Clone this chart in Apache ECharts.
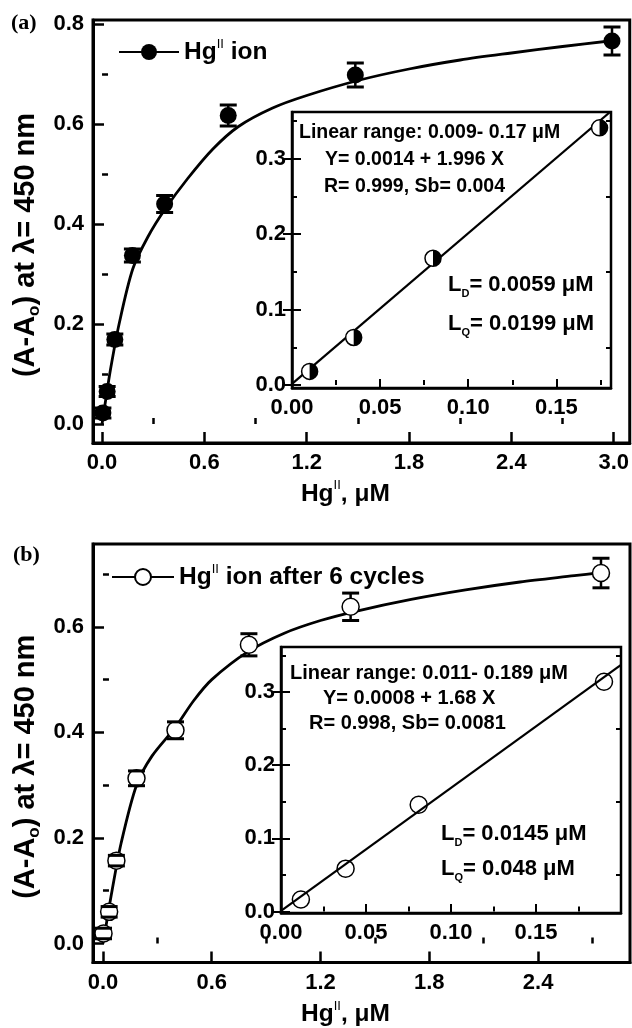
<!DOCTYPE html>
<html><head><meta charset="utf-8">
<script src="https://cdn.jsdelivr.net/npm/echarts@6/dist/echarts.min.js"></script>
<style>html,body{margin:0;padding:0;background:#fff}#c{width:632px;height:1028px}</style>
</head><body><div id="c"></div>
<script>
// ---------- Panel (a): Hg(II) ion ----------
const concA = [0.005, 0.030, 0.075, 0.178, 0.367, 0.740, 1.485, 2.990];
const absA  = [0.022, 0.065, 0.169, 0.337, 0.440, 0.617, 0.698, 0.766];
const errA  = [0.010, 0.010, 0.011, 0.013, 0.017, 0.021, 0.024, 0.028];
const fitXA = [0, 0.02, 0.05, 0.10, 0.18, 0.27, 0.37, 0.50, 0.65, 0.80, 1.00, 1.20, 1.50, 1.80, 2.10, 2.40, 2.70, 3.00];
const fitYA = [0, 0.045, 0.11, 0.20, 0.31, 0.375, 0.43, 0.49, 0.55, 0.595, 0.632, 0.657, 0.687, 0.71, 0.728, 0.742, 0.755, 0.767];
const insetXA = [0.010, 0.035, 0.080, 0.1745];
const insetYA = [0.018, 0.063, 0.168, 0.341];
const insetLineXA = [0, 0.181];
const insetLineYA = [0.0014, 0.363];

// ---------- Panel (b): Hg(II) ion after 6 cycles ----------
const concB = [0.003, 0.034, 0.074, 0.185, 0.400, 0.805, 1.366, 2.747];
const absB  = [0.019, 0.060, 0.157, 0.313, 0.404, 0.566, 0.638, 0.702];
const errB  = [0.010, 0.010, 0.010, 0.014, 0.016, 0.021, 0.026, 0.028];
const fitXB = [0, 0.02, 0.05, 0.10, 0.185, 0.27, 0.40, 0.50, 0.60, 0.80, 1.00, 1.20, 1.40, 1.70, 2.00, 2.30, 2.60, 2.75];
const fitYB = [0, 0.04, 0.10, 0.19, 0.30, 0.355, 0.41, 0.46, 0.50, 0.553, 0.588, 0.612, 0.63, 0.652, 0.67, 0.685, 0.697, 0.703];
const insetXB = [0.0117, 0.038, 0.081, 0.190];
const insetYB = [0.0164, 0.0586, 0.146, 0.314];
const insetLineXB = [0, 0.2];
const insetLineYB = [0.0008, 0.337];

// ---------- Tick values ----------
const mainXTicksA = [0, 0.6, 1.2, 1.8, 2.4, 3.0];
const mainXMinorA = [0.3, 0.9, 1.5, 2.1, 2.7];
const mainYTicksA = [0, 0.2, 0.4, 0.6, 0.8];
const mainYMinorA = [0.1, 0.3, 0.5, 0.7];
const mainXTicksB = [0, 0.6, 1.2, 1.8, 2.4];
const mainXMinorB = [0.3, 0.9, 1.5, 2.1, 2.7];
const mainYTicksB = [0, 0.2, 0.4, 0.6];
const mainYMinorB = [0.1, 0.3, 0.5, 0.7];
const insetXTicks = [0, 0.05, 0.10, 0.15];
const insetXMinor = [0.025, 0.075, 0.125, 0.175];
const insetYTicks = [0, 0.1, 0.2, 0.3];
const insetYMinor = [0.05, 0.15, 0.25, 0.35];

const FONT = '"Liberation Sans", Arial, Helvetica, sans-serif';
const SERIF = '"Liberation Serif", "Times New Roman", serif';

const pairs = (xs, ys) => xs.map((x, i) => [x, ys[i]]);
const triples = (xs, ys, es) => xs.map((x, i) => [x, ys[i], es[i]]);

function majorAxis(gridIndex, min, max, ticks, digits, o) {
  const ax = {
    type: 'value', gridIndex, min, max, position: o.position,
    axisLine: { show: true, onZero: false, lineStyle: { color: '#000', width: o.lw } },
    axisTick: { show: true, inside: true, length: o.tl, lineStyle: { color: '#000', width: o.tw }, customValues: ticks },
    axisLabel: { show: o.labels !== false, customValues: ticks, formatter: v => Number(v).toFixed(digits),
      margin: o.margin, color: '#000', fontFamily: FONT, fontWeight: 'bold', fontSize: o.fs },
    splitLine: { show: false }
  };
  if (o.name) {
    ax.name = o.name; ax.nameLocation = 'middle'; ax.nameGap = o.nameGap;
    ax.nameRotate = o.nameRotate;
    ax.nameTextStyle = o.nameTextStyle;
  }
  return ax;
}
function minorAxis(gridIndex, min, max, ticks, o) {
  return {
    type: 'value', gridIndex, min, max, position: o.position,
    axisLine: { show: false }, axisLabel: { show: false }, splitLine: { show: false },
    axisTick: { show: true, inside: true, length: o.tl, lineStyle: { color: '#000', width: o.tw }, customValues: ticks }
  };
}

const xNameRich = {
  t: { fontFamily: FONT, fontWeight: 'bold', fontSize: 24.5, color: '#000', lineHeight: 30 },
  s: { fontFamily: FONT, fontWeight: 'normal', fontSize: 13, color: '#000', lineHeight: 13, verticalAlign: 'top' }
};
const yNameRich = {
  t: { fontFamily: FONT, fontWeight: 'bold', fontSize: 29, color: '#000', lineHeight: 34 },
  o: { fontFamily: FONT, fontWeight: 'bold', fontSize: 17, color: '#000', lineHeight: 14, verticalAlign: 'bottom' }
};
const xName = '{t|Hg}{s|II}{t|, μM}';
const yName = '{t|(A-A}{o|o}{t|) at λ= 450 nm}';

const rangesA = { x: [-0.053, 3.094], y: [-0.038, 0.808], ix: [0, 0.181], iy: [-0.004, 0.362] };
const rangesB = { x: [-0.055, 2.907], y: [-0.036, 0.757], ix: [0, 0.2], iy: [-0.002, 0.3615] };

const mainX = { position: 'bottom', lw: 3, tl: 11, tw: 2.5, margin: 9, fs: 22 };
const mainY = { position: 'left', lw: 3, tl: 11, tw: 2.5, margin: 9, fs: 22 };
const mainMinor = { tl: 6, tw: 2.5 };
const insX = { position: 'bottom', lw: 2.5, tl: 9, tw: 2, margin: 9, fs: 22 };
const insY = { position: 'left', lw: 2.5, tl: 9, tw: 2, margin: 6, fs: 22 };
const insMinor = { tl: 5, tw: 2 };

const xAxis = [
  majorAxis(0, rangesA.x[0], rangesA.x[1], mainXTicksA, 1, Object.assign({}, mainX, {
    name: xName, nameGap: 36, nameTextStyle: { rich: xNameRich, padding: [0, 32, 0, 0] } })),
  minorAxis(0, rangesA.x[0], rangesA.x[1], mainXMinorA, Object.assign({ position: 'bottom' }, mainMinor)),
  majorAxis(1, rangesA.ix[0], rangesA.ix[1], insetXTicks, 2, insX),
  minorAxis(1, rangesA.ix[0], rangesA.ix[1], insetXMinor, Object.assign({ position: 'bottom' }, insMinor)),
  majorAxis(2, rangesB.x[0], rangesB.x[1], mainXTicksB, 1, Object.assign({}, mainX, {
    name: xName, nameGap: 37, nameTextStyle: { rich: xNameRich, padding: [0, 32, 0, 0] } })),
  minorAxis(2, rangesB.x[0], rangesB.x[1], mainXMinorB, Object.assign({ position: 'bottom' }, mainMinor)),
  majorAxis(3, rangesB.ix[0], rangesB.ix[1], insetXTicks, 2, insX),
  minorAxis(3, rangesB.ix[0], rangesB.ix[1], insetXMinor, Object.assign({ position: 'bottom' }, insMinor))
];
const yAxis = [
  majorAxis(0, rangesA.y[0], rangesA.y[1], mainYTicksA, 1, Object.assign({}, mainY, {
    name: yName, nameGap: 50, nameRotate: 90, nameTextStyle: { rich: yNameRich, padding: [0, 27, 0, 0] } })),
  minorAxis(0, rangesA.y[0], rangesA.y[1], mainYMinorA, Object.assign({ position: 'left' }, mainMinor)),
  majorAxis(1, rangesA.iy[0], rangesA.iy[1], insetYTicks, 1, insY),
  minorAxis(1, rangesA.iy[0], rangesA.iy[1], insetYMinor, Object.assign({ position: 'left' }, insMinor)),
  minorAxis(1, rangesA.iy[0], rangesA.iy[1], insetYTicks, { position: 'right', tl: 9, tw: 2 }),
  minorAxis(1, rangesA.iy[0], rangesA.iy[1], insetYMinor, Object.assign({ position: 'right' }, insMinor)),
  majorAxis(2, rangesB.y[0], rangesB.y[1], mainYTicksB, 1, Object.assign({}, mainY, {
    name: yName, nameGap: 50, nameRotate: 90, nameTextStyle: { rich: yNameRich, padding: [0, 27, 0, 0] } })),
  minorAxis(2, rangesB.y[0], rangesB.y[1], mainYMinorB, Object.assign({ position: 'left' }, mainMinor)),
  majorAxis(3, rangesB.iy[0], rangesB.iy[1], insetYTicks, 1, insY),
  minorAxis(3, rangesB.iy[0], rangesB.iy[1], insetYMinor, Object.assign({ position: 'left' }, insMinor)),
  minorAxis(3, rangesB.iy[0], rangesB.iy[1], insetYTicks, { position: 'right', tl: 9, tw: 2 }),
  minorAxis(3, rangesB.iy[0], rangesB.iy[1], insetYMinor, Object.assign({ position: 'right' }, insMinor))
];

function errorBars(radius) {
  return function (params, api) {
    const x = api.value(0), y = api.value(1), e = api.value(2);
    const c = api.coord([x, y]);
    const t = api.coord([x, y + e]);
    const b = api.coord([x, y - e]);
    const hw = 8.5;
    const cap = { stroke: '#000', lineWidth: 3 };
    const stem = { stroke: '#000', lineWidth: 2.5 };
    const ch = [
      { type: 'line', shape: { x1: t[0] - hw, y1: t[1], x2: t[0] + hw, y2: t[1] }, style: cap },
      { type: 'line', shape: { x1: b[0] - hw, y1: b[1], x2: b[0] + hw, y2: b[1] }, style: cap }
    ];
    if (t[1] < c[1] - radius) ch.push({ type: 'line', shape: { x1: c[0], y1: t[1], x2: c[0], y2: c[1] - radius }, style: stem });
    if (b[1] > c[1] + radius) ch.push({ type: 'line', shape: { x1: c[0], y1: c[1] + radius, x2: c[0], y2: b[1] }, style: stem });
    return { type: 'group', children: ch };
  };
}

const nameA = 'Hg(II) ion';
const nameB = 'Hg(II) ion after 6 cycles';

const series = [
  // panel (a) main
  { name: nameA, type: 'line', xAxisIndex: 0, yAxisIndex: 0, data: pairs(fitXA, fitYA), smooth: 0.3,
    symbol: 'circle', showSymbol: false, symbolSize: 16, color: '#000', lineStyle: { color: '#000', width: 2.8 }, z: 2, silent: true },
  { type: 'custom', xAxisIndex: 0, yAxisIndex: 0, data: triples(concA, absA, errA), renderItem: errorBars(0), encode: { x: 0, y: 1 }, z: 3 },
  { type: 'scatter', xAxisIndex: 0, yAxisIndex: 0, data: pairs(concA, absA), symbol: 'circle', symbolSize: 17,
    itemStyle: { color: '#000', opacity: 1 }, z: 4 },
  // panel (a) inset
  { type: 'line', xAxisIndex: 2, yAxisIndex: 2, data: pairs(insetLineXA, insetLineYA), symbol: 'none',
    lineStyle: { color: '#000', width: 2.2 }, z: 5 },
  { type: 'scatter', xAxisIndex: 2, yAxisIndex: 2, data: pairs(insetXA, insetYA), symbol: 'circle', symbolSize: 16,
    itemStyle: { color: '#fff', borderColor: '#000', borderWidth: 1.5, opacity: 1 }, z: 6 },
  { type: 'scatter', xAxisIndex: 2, yAxisIndex: 2, data: pairs(insetXA, insetYA), symbol: 'path://M0,0 A10,10 0 0 1 0,20 Z',
    symbolSize: [8, 16], symbolOffset: [4, 0], itemStyle: { color: '#000', opacity: 1 }, z: 7 },
  // panel (b) main
  { name: nameB, type: 'line', xAxisIndex: 4, yAxisIndex: 6, data: pairs(fitXB, fitYB), smooth: 0.3,
    symbol: 'emptyCircle', showSymbol: false, symbolSize: 16, color: '#000', lineStyle: { color: '#000', width: 2.8 }, z: 2, silent: true },
  { type: 'scatter', xAxisIndex: 4, yAxisIndex: 6, data: pairs(concB, absB), symbol: 'circle', symbolSize: 17,
    itemStyle: { color: '#fff', borderColor: '#000', borderWidth: 1.5, opacity: 1 }, z: 3 },
  { type: 'custom', xAxisIndex: 4, yAxisIndex: 6, data: triples(concB, absB, errB), renderItem: errorBars(8.5), encode: { x: 0, y: 1 }, z: 4 },
  // panel (b) inset
  { type: 'line', xAxisIndex: 6, yAxisIndex: 8, data: pairs(insetLineXB, insetLineYB), symbol: 'none',
    lineStyle: { color: '#000', width: 2.2 }, z: 5 },
  { type: 'scatter', xAxisIndex: 6, yAxisIndex: 8, data: pairs(insetXB, insetYB), symbol: 'circle', symbolSize: 17,
    itemStyle: { color: 'rgba(255,255,255,0)', borderColor: '#000', borderWidth: 1.5, opacity: 1 }, z: 6 }
];

const legRich = {
  t: { fontFamily: FONT, fontWeight: 'bold', fontSize: 24.5, color: '#000', lineHeight: 28 },
  s: { fontFamily: FONT, fontWeight: 'normal', fontSize: 13, color: '#000', lineHeight: 12, verticalAlign: 'top' }
};

function txt(x, y, text, size) {
  return {
    type: 'text', x, y, silent: true,
    style: {
      text, align: 'left', verticalAlign: 'middle', fill: '#000',
      fontFamily: FONT, fontWeight: 'bold', fontSize: size,
      rich: {
        t: { fontFamily: FONT, fontWeight: 'bold', fontSize: size, fill: '#000', lineHeight: 28 },
        d: { fontFamily: FONT, fontWeight: 'bold', fontSize: 11, fill: '#000', lineHeight: 10, verticalAlign: 'bottom' }
      }
    }
  };
}

const graphic = [
  { type: 'text', x: 11, y: 23, silent: true, style: { text: '(a)', fill: '#000', fontFamily: SERIF, fontWeight: 'bold', fontSize: 22, align: 'left', verticalAlign: 'middle' } },
  { type: 'text', x: 13, y: 555, silent: true, style: { text: '(b)', fill: '#000', fontFamily: SERIF, fontWeight: 'bold', fontSize: 22, align: 'left', verticalAlign: 'middle' } },
  txt(299, 133, '{t|Linear range: 0.009- 0.17 μM}', 19.5),
  txt(325, 160, '{t|Y= 0.0014 + 1.996 X}', 19.5),
  txt(324, 187, '{t|R= 0.999, Sb= 0.004}', 19.5),
  txt(448, 285, '{t|L}{d|D}{t|= 0.0059 μM}', 22),
  txt(448, 324, '{t|L}{d|Q}{t|= 0.0199 μM}', 22),
  txt(290, 673, '{t|Linear range: 0.011- 0.189 μM}', 20),
  txt(323, 698, '{t|Y= 0.0008 + 1.68 X}', 20),
  txt(309, 723, '{t|R= 0.998, Sb= 0.0081}', 20),
  txt(441, 834, '{t|L}{d|D}{t|= 0.0145 μM}', 22),
  txt(441, 869, '{t|L}{d|Q}{t|= 0.048 μM}', 22)
];

const option = {
  backgroundColor: '#fff',
  animation: false,
  grid: [
    { left: 93, top: 20, width: 537, height: 423, show: true, borderColor: '#000', borderWidth: 3, backgroundColor: 'rgba(0,0,0,0)' },
    { left: 292, top: 112, width: 319, height: 276, show: true, borderColor: '#000', borderWidth: 2.5, backgroundColor: '#fff' },
    { left: 93, top: 544, width: 537, height: 420, show: true, borderColor: '#000', borderWidth: 3, backgroundColor: 'rgba(0,0,0,0)' },
    { left: 281, top: 647, width: 340, height: 266, show: true, borderColor: '#000', borderWidth: 2.5, backgroundColor: '#fff' }
  ],
  xAxis, yAxis, series, graphic,
  legend: [
    { left: 118, top: 38, padding: 0, data: [nameA], itemWidth: 60, itemHeight: 20, selectedMode: false,
      formatter: () => '{t|Hg}{s|II}{t| ion}', textStyle: { rich: legRich } },
    { left: 111, top: 563, padding: 0, data: [nameB], itemWidth: 62, itemHeight: 20, selectedMode: false,
      formatter: () => '{t|Hg}{s|II}{t| ion after 6 cycles}', textStyle: { rich: legRich } }
  ]
};

const chart = echarts.init(document.getElementById('c'), null, { renderer: 'canvas' });
chart.setOption(option);
</script>
</body></html>
